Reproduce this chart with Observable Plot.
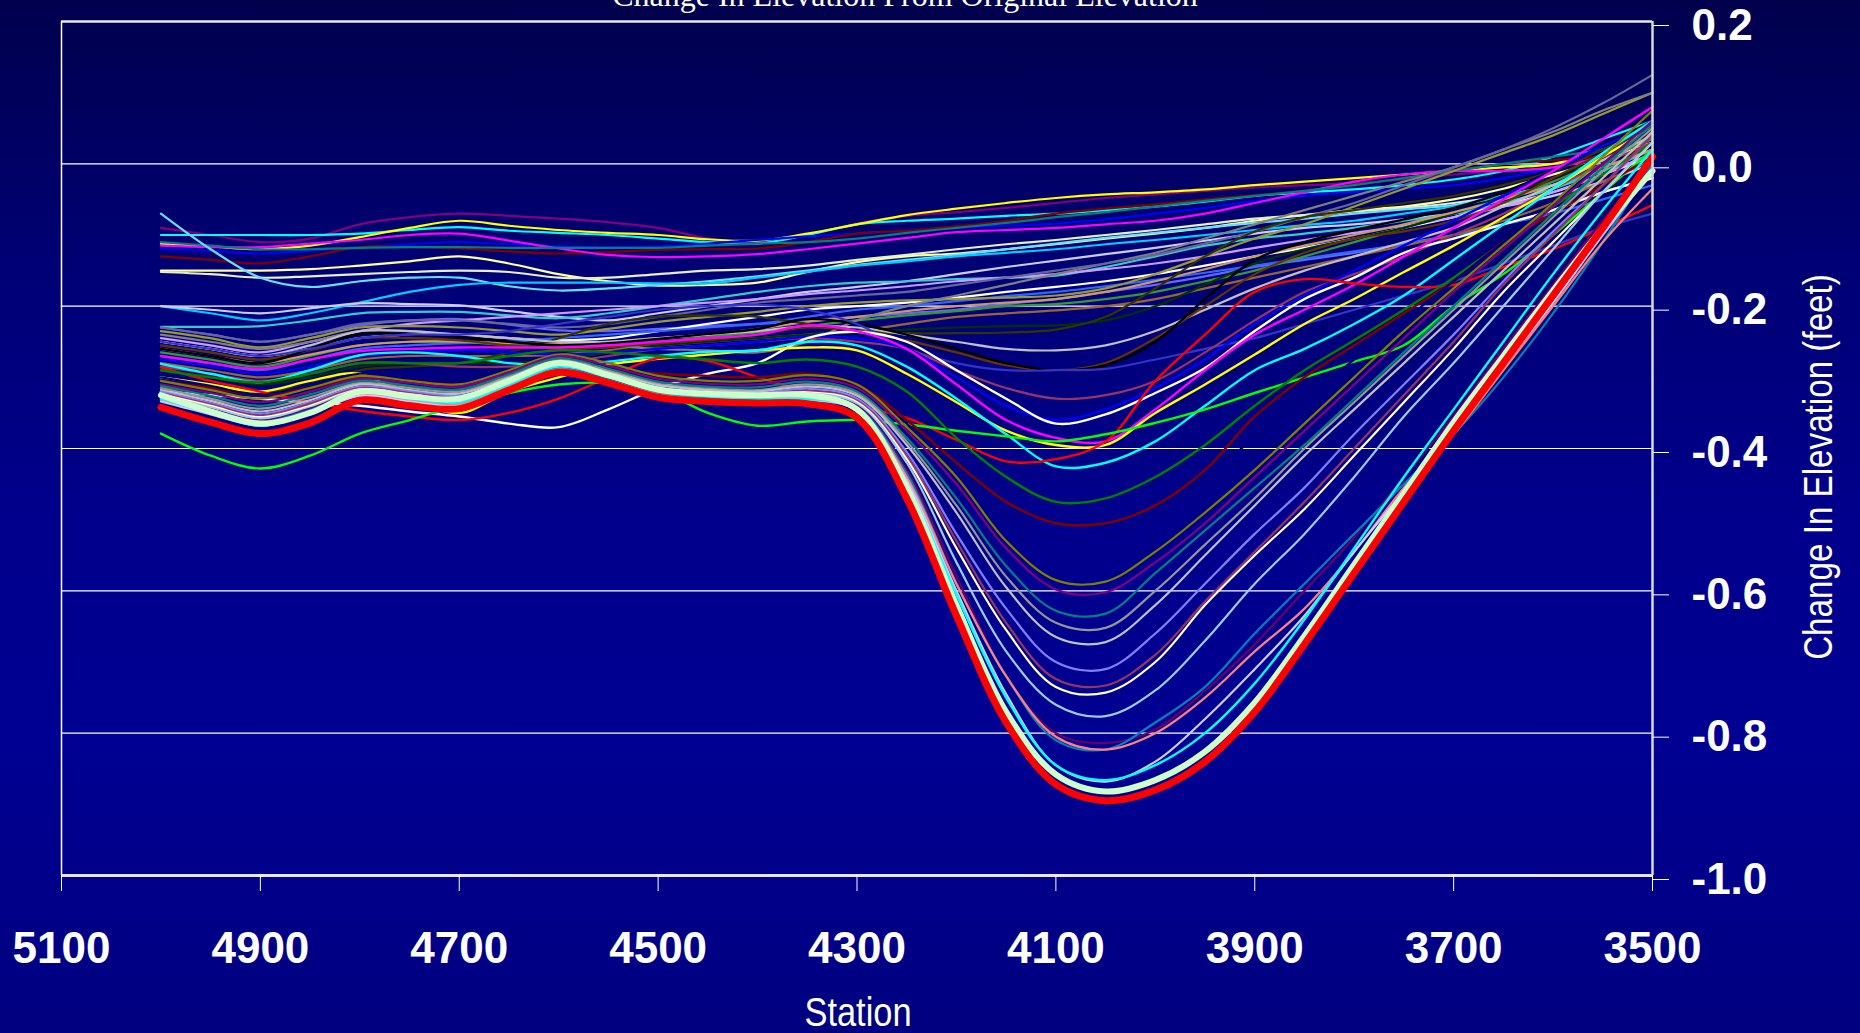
<!DOCTYPE html>
<html><head><meta charset="utf-8">
<script src="https://cdn.jsdelivr.net/npm/d3@7"></script>
<script src="https://cdn.jsdelivr.net/npm/@observablehq/plot@0.6"></script>
<style>
html,body{margin:0;padding:0;background:#000070;}
#chart{position:relative;width:1860px;height:1033px;overflow:hidden;
  background:linear-gradient(to bottom,#00004c 0%,#000074 25%,#00008c 50%,#000092 72%,#000080 100%);}
#chart svg{position:absolute;left:0;top:0;}
.lbl{position:absolute;color:#fff;white-space:nowrap;}
#title{left:905px;top:-22px;transform:translateX(-50%);font-family:"Liberation Serif","Times New Roman",serif;font-size:32px;line-height:34px;}
#xlab{left:858px;top:995px;transform:translateX(-50%) scaleX(0.86);font-family:"Liberation Sans",Arial,sans-serif;font-size:40px;line-height:34px;}
#ylab{left:1818px;top:467px;transform:translate(-50%,-50%) rotate(-90deg) scaleX(0.83);font-family:"Liberation Sans",Arial,sans-serif;font-size:40px;line-height:40px;}
</style></head><body>
<div id="chart">
  <div class="lbl" id="title">Change In Elevation From Original Elevation</div>
  <div class="lbl" id="xlab">Station</div>
  <div class="lbl" id="ylab">Change In Elevation (feet)</div>
</div>
<script>
// ---- data ----
const stations = [5000,4950,4900,4850,4800,4750,4700,4650,4600,4550,4500,4450,4400,4350,4300,4250,4200,4150,4100,4050,4000,3950,3900,3850,3800,3750,3700,3650,3600,3550,3500];
const xTicks = [5100,4900,4700,4500,4300,4100,3900,3700,3500];
const yTicks = [-1.0,-0.8,-0.6,-0.4,-0.2,0.0,0.2];

// top (shallow) group
const topPurple = [-0.090,-0.100,-0.110,-0.105,-0.085,-0.075,-0.070,-0.073,-0.077,-0.082,-0.090,-0.105,-0.112,-0.100,-0.084,-0.073,-0.068,-0.062,-0.055,-0.048,-0.043,-0.038,-0.033,-0.030,-0.027,-0.022,-0.015,-0.010,-0.005,0.010,0.030];
const topCyan = [-0.100,-0.100,-0.100,-0.100,-0.098,-0.093,-0.089,-0.094,-0.097,-0.100,-0.105,-0.110,-0.112,-0.100,-0.085,-0.080,-0.077,-0.073,-0.070,-0.065,-0.060,-0.053,-0.045,-0.040,-0.036,-0.030,-0.022,-0.010,0.010,0.035,0.060];
const topYellow = [-0.112,-0.116,-0.120,-0.115,-0.103,-0.090,-0.080,-0.087,-0.093,-0.097,-0.100,-0.106,-0.108,-0.098,-0.085,-0.072,-0.063,-0.055,-0.048,-0.043,-0.040,-0.036,-0.030,-0.025,-0.020,-0.015,-0.010,-0.005,0.000,0.020,0.050];
const topBlue = [-0.120,-0.122,-0.126,-0.122,-0.117,-0.113,-0.110,-0.113,-0.116,-0.117,-0.116,-0.112,-0.107,-0.102,-0.098,-0.094,-0.090,-0.087,-0.084,-0.078,-0.070,-0.062,-0.052,-0.045,-0.040,-0.035,-0.030,-0.020,-0.005,0.020,0.050];
const topDarkRed = [-0.130,-0.135,-0.140,-0.130,-0.117,-0.117,-0.119,-0.123,-0.126,-0.124,-0.121,-0.120,-0.119,-0.110,-0.098,-0.094,-0.088,-0.080,-0.070,-0.063,-0.057,-0.050,-0.044,-0.038,-0.030,-0.020,-0.010,0.000,0.005,0.010,0.020];
const topMagenta = [-0.115,-0.117,-0.117,-0.112,-0.107,-0.100,-0.098,-0.108,-0.119,-0.128,-0.131,-0.130,-0.127,-0.120,-0.112,-0.104,-0.096,-0.093,-0.090,-0.085,-0.080,-0.070,-0.055,-0.040,-0.025,-0.015,-0.010,-0.010,-0.005,0.010,0.030];
const topTeal = [-0.110,-0.115,-0.120,-0.120,-0.118,-0.117,-0.117,-0.118,-0.118,-0.118,-0.118,-0.115,-0.112,-0.110,-0.105,-0.097,-0.090,-0.083,-0.075,-0.068,-0.060,-0.052,-0.045,-0.038,-0.030,-0.020,-0.010,0.000,0.010,0.020,0.035];
const topLightYellow = [-0.150,-0.150,-0.150,-0.148,-0.143,-0.137,-0.130,-0.140,-0.155,-0.165,-0.171,-0.170,-0.167,-0.152,-0.138,-0.130,-0.126,-0.120,-0.113,-0.105,-0.098,-0.090,-0.080,-0.072,-0.065,-0.060,-0.050,-0.035,-0.015,0.005,0.030];
const topPale = [-0.152,-0.155,-0.160,-0.158,-0.155,-0.152,-0.150,-0.152,-0.160,-0.160,-0.155,-0.150,-0.148,-0.143,-0.135,-0.128,-0.120,-0.113,-0.107,-0.100,-0.093,-0.085,-0.077,-0.072,-0.067,-0.062,-0.055,-0.045,-0.030,-0.010,0.010];
const topLightCyan = [-0.070,-0.120,-0.160,-0.173,-0.165,-0.160,-0.160,-0.172,-0.178,-0.175,-0.170,-0.165,-0.158,-0.150,-0.142,-0.135,-0.128,-0.120,-0.112,-0.104,-0.097,-0.090,-0.083,-0.077,-0.070,-0.064,-0.058,-0.045,-0.030,-0.010,0.010];
const topSky = [-0.200,-0.210,-0.220,-0.210,-0.195,-0.180,-0.170,-0.167,-0.167,-0.167,-0.168,-0.168,-0.160,-0.152,-0.143,-0.137,-0.130,-0.125,-0.120,-0.113,-0.107,-0.100,-0.093,-0.086,-0.080,-0.070,-0.060,-0.045,-0.030,-0.010,0.010];

// middle group
const midLavender = [-0.200,-0.205,-0.210,-0.203,-0.196,-0.197,-0.199,-0.207,-0.215,-0.220,-0.210,-0.200,-0.190,-0.180,-0.173,-0.165,-0.155,-0.145,-0.136,-0.127,-0.118,-0.108,-0.098,-0.090,-0.085,-0.078,-0.070,-0.060,-0.045,-0.025,0.000];
const midTurq = [-0.229,-0.229,-0.228,-0.220,-0.210,-0.208,-0.208,-0.213,-0.217,-0.210,-0.200,-0.190,-0.180,-0.172,-0.167,-0.165,-0.162,-0.160,-0.157,-0.145,-0.130,-0.115,-0.105,-0.098,-0.090,-0.080,-0.070,-0.055,-0.035,-0.010,0.020];
const midViolet = [-0.230,-0.240,-0.250,-0.240,-0.227,-0.220,-0.218,-0.226,-0.234,-0.235,-0.232,-0.228,-0.225,-0.220,-0.215,-0.210,-0.205,-0.197,-0.190,-0.180,-0.170,-0.158,-0.145,-0.135,-0.125,-0.112,-0.100,-0.085,-0.065,-0.040,-0.020];
const midWhite2 = [-0.250,-0.260,-0.270,-0.260,-0.245,-0.240,-0.240,-0.245,-0.248,-0.245,-0.235,-0.225,-0.215,-0.205,-0.200,-0.195,-0.188,-0.180,-0.173,-0.165,-0.155,-0.143,-0.130,-0.118,-0.105,-0.090,-0.075,-0.058,-0.040,-0.015,0.010];
const midPlum = [-0.245,-0.255,-0.265,-0.250,-0.235,-0.225,-0.220,-0.215,-0.210,-0.205,-0.200,-0.195,-0.190,-0.183,-0.178,-0.172,-0.165,-0.160,-0.155,-0.148,-0.140,-0.130,-0.118,-0.107,-0.097,-0.087,-0.075,-0.060,-0.040,-0.015,0.015];
const midRoyal = [-0.270,-0.280,-0.290,-0.275,-0.260,-0.255,-0.252,-0.250,-0.245,-0.240,-0.235,-0.230,-0.225,-0.215,-0.205,-0.200,-0.193,-0.186,-0.180,-0.172,-0.163,-0.153,-0.143,-0.133,-0.123,-0.113,-0.100,-0.085,-0.070,-0.050,-0.030];
const midOlive = [-0.235,-0.245,-0.258,-0.245,-0.230,-0.228,-0.230,-0.235,-0.240,-0.232,-0.222,-0.215,-0.208,-0.200,-0.195,-0.192,-0.190,-0.188,-0.185,-0.175,-0.155,-0.130,-0.105,-0.085,-0.060,-0.035,-0.010,0.015,0.040,0.070,0.100];
const midGreen = [-0.265,-0.275,-0.285,-0.270,-0.255,-0.250,-0.250,-0.255,-0.258,-0.255,-0.250,-0.243,-0.237,-0.228,-0.220,-0.213,-0.207,-0.200,-0.197,-0.190,-0.180,-0.165,-0.150,-0.130,-0.110,-0.090,-0.070,-0.050,-0.025,0.005,0.035];
const midBrown = [-0.280,-0.290,-0.300,-0.290,-0.275,-0.270,-0.270,-0.270,-0.268,-0.262,-0.255,-0.250,-0.245,-0.240,-0.235,-0.225,-0.215,-0.210,-0.206,-0.200,-0.190,-0.175,-0.160,-0.145,-0.130,-0.115,-0.100,-0.080,-0.055,-0.025,0.005];
const midDarkGreen = [-0.290,-0.300,-0.310,-0.300,-0.285,-0.280,-0.280,-0.280,-0.275,-0.265,-0.255,-0.250,-0.245,-0.240,-0.237,-0.233,-0.230,-0.228,-0.227,-0.220,-0.200,-0.170,-0.140,-0.120,-0.105,-0.090,-0.070,-0.045,-0.020,0.010,0.040];
const midTan = [-0.260,-0.270,-0.280,-0.268,-0.255,-0.250,-0.250,-0.252,-0.253,-0.250,-0.245,-0.240,-0.232,-0.222,-0.215,-0.207,-0.200,-0.195,-0.190,-0.180,-0.165,-0.148,-0.130,-0.115,-0.100,-0.085,-0.068,-0.050,-0.030,-0.005,0.020];
const midGray = [-0.240,-0.250,-0.260,-0.250,-0.235,-0.235,-0.240,-0.245,-0.250,-0.255,-0.260,-0.262,-0.265,-0.250,-0.220,-0.200,-0.185,-0.170,-0.155,-0.140,-0.125,-0.105,-0.085,-0.065,-0.045,-0.025,-0.005,0.020,0.045,0.075,0.100];
const midSlate = [-0.230,-0.240,-0.250,-0.240,-0.225,-0.220,-0.220,-0.225,-0.230,-0.225,-0.215,-0.205,-0.195,-0.190,-0.185,-0.180,-0.170,-0.160,-0.150,-0.140,-0.128,-0.112,-0.095,-0.075,-0.055,-0.030,-0.005,0.020,0.050,0.085,0.125];
const midDarkOlive = [-0.300,-0.310,-0.320,-0.310,-0.290,-0.285,-0.280,-0.265,-0.245,-0.225,-0.215,-0.213,-0.215,-0.225,-0.235,-0.238,-0.238,-0.237,-0.233,-0.215,-0.175,-0.130,-0.095,-0.075,-0.065,-0.055,-0.045,-0.030,-0.010,0.020,0.050];
const midSilver = [-0.250,-0.260,-0.270,-0.255,-0.235,-0.235,-0.240,-0.245,-0.250,-0.250,-0.245,-0.240,-0.235,-0.228,-0.230,-0.240,-0.250,-0.260,-0.262,-0.255,-0.235,-0.205,-0.175,-0.150,-0.130,-0.110,-0.090,-0.060,-0.030,0.005,0.040];
const midBlack = [-0.260,-0.270,-0.280,-0.260,-0.239,-0.240,-0.243,-0.250,-0.255,-0.252,-0.246,-0.239,-0.232,-0.218,-0.225,-0.240,-0.260,-0.280,-0.290,-0.283,-0.250,-0.190,-0.135,-0.110,-0.093,-0.078,-0.062,-0.040,-0.010,0.025,0.060];
const midBrownDark = [-0.255,-0.265,-0.275,-0.262,-0.245,-0.245,-0.248,-0.255,-0.260,-0.258,-0.252,-0.247,-0.240,-0.230,-0.235,-0.248,-0.265,-0.283,-0.290,-0.280,-0.245,-0.200,-0.155,-0.125,-0.105,-0.095,-0.080,-0.055,-0.020,0.015,0.045];
const midDarkBlue = [-0.250,-0.260,-0.270,-0.260,-0.245,-0.240,-0.240,-0.235,-0.225,-0.215,-0.205,-0.200,-0.198,-0.205,-0.225,-0.260,-0.280,-0.290,-0.290,-0.288,-0.275,-0.260,-0.245,-0.225,-0.205,-0.185,-0.165,-0.140,-0.115,-0.090,-0.070];
const midMauve = [-0.285,-0.295,-0.305,-0.295,-0.280,-0.280,-0.285,-0.285,-0.280,-0.270,-0.260,-0.255,-0.250,-0.245,-0.250,-0.260,-0.290,-0.315,-0.330,-0.325,-0.305,-0.265,-0.220,-0.180,-0.155,-0.130,-0.100,-0.070,-0.035,0.000,0.030];
const midBlue = [-0.275,-0.285,-0.295,-0.285,-0.270,-0.265,-0.262,-0.265,-0.268,-0.265,-0.260,-0.255,-0.250,-0.243,-0.245,-0.260,-0.300,-0.340,-0.360,-0.345,-0.315,-0.275,-0.225,-0.185,-0.150,-0.115,-0.080,-0.045,-0.010,0.025,0.055];
const midWhite = [-0.320,-0.325,-0.330,-0.335,-0.340,-0.348,-0.355,-0.365,-0.370,-0.345,-0.315,-0.295,-0.280,-0.245,-0.236,-0.250,-0.290,-0.330,-0.365,-0.352,-0.322,-0.287,-0.235,-0.190,-0.160,-0.125,-0.105,-0.085,-0.065,-0.040,-0.020];
const midMagenta = [-0.270,-0.280,-0.288,-0.275,-0.263,-0.260,-0.258,-0.258,-0.258,-0.255,-0.250,-0.245,-0.240,-0.227,-0.235,-0.260,-0.310,-0.360,-0.385,-0.390,-0.345,-0.290,-0.240,-0.205,-0.170,-0.130,-0.090,-0.050,-0.010,0.035,0.080];
const midYellow = [-0.300,-0.310,-0.320,-0.305,-0.295,-0.330,-0.350,-0.320,-0.300,-0.282,-0.274,-0.268,-0.262,-0.258,-0.262,-0.295,-0.335,-0.375,-0.395,-0.395,-0.350,-0.310,-0.268,-0.225,-0.190,-0.152,-0.115,-0.075,-0.035,0.010,0.050];
const midCyan = [-0.281,-0.295,-0.307,-0.290,-0.269,-0.265,-0.270,-0.280,-0.283,-0.278,-0.270,-0.264,-0.262,-0.250,-0.255,-0.285,-0.330,-0.380,-0.425,-0.420,-0.390,-0.340,-0.290,-0.260,-0.225,-0.185,-0.135,-0.085,-0.035,0.015,0.060];
const midRed = [-0.286,-0.305,-0.320,-0.335,-0.347,-0.355,-0.360,-0.350,-0.330,-0.300,-0.273,-0.277,-0.300,-0.320,-0.340,-0.357,-0.388,-0.418,-0.415,-0.390,-0.305,-0.240,-0.180,-0.162,-0.168,-0.173,-0.170,-0.145,-0.120,-0.090,-0.058];
const midLime = [-0.379,-0.410,-0.428,-0.410,-0.379,-0.360,-0.340,-0.322,-0.310,-0.308,-0.318,-0.350,-0.368,-0.362,-0.360,-0.366,-0.375,-0.383,-0.390,-0.380,-0.364,-0.345,-0.322,-0.300,-0.278,-0.255,-0.200,-0.155,-0.100,-0.040,0.020];

// deep group
const deepGreen = [-0.290,-0.300,-0.307,-0.295,-0.280,-0.280,-0.280,-0.270,-0.262,-0.265,-0.270,-0.275,-0.280,-0.275,-0.285,-0.320,-0.385,-0.440,-0.475,-0.470,-0.440,-0.395,-0.340,-0.290,-0.248,-0.205,-0.160,-0.110,-0.060,-0.015,0.030];
const deepDarkRed = [-0.305,-0.315,-0.325,-0.315,-0.300,-0.305,-0.310,-0.300,-0.290,-0.290,-0.295,-0.298,-0.300,-0.295,-0.310,-0.360,-0.420,-0.475,-0.505,-0.505,-0.480,-0.430,-0.355,-0.300,-0.255,-0.210,-0.165,-0.110,-0.070,-0.030,0.010];
const deepNavy = [-0.300,-0.312,-0.325,-0.310,-0.295,-0.300,-0.305,-0.290,-0.270,-0.285,-0.300,-0.305,-0.305,-0.300,-0.315,-0.365,-0.430,-0.495,-0.525,-0.525,-0.490,-0.440,-0.385,-0.330,-0.275,-0.220,-0.165,-0.110,-0.055,0.000,0.050];
const deepOlive = [-0.305,-0.318,-0.330,-0.315,-0.298,-0.305,-0.310,-0.290,-0.268,-0.280,-0.298,-0.305,-0.305,-0.297,-0.310,-0.370,-0.440,-0.530,-0.585,-0.587,-0.545,-0.490,-0.430,-0.365,-0.300,-0.235,-0.175,-0.115,-0.055,0.010,0.075];
const deepPurple = [-0.310,-0.322,-0.335,-0.320,-0.302,-0.308,-0.313,-0.293,-0.270,-0.284,-0.302,-0.309,-0.310,-0.302,-0.315,-0.375,-0.450,-0.540,-0.598,-0.602,-0.560,-0.505,-0.440,-0.375,-0.310,-0.245,-0.180,-0.120,-0.060,0.000,0.060];
const deepTeal = [-0.312,-0.326,-0.340,-0.324,-0.305,-0.312,-0.317,-0.296,-0.273,-0.288,-0.306,-0.313,-0.314,-0.306,-0.320,-0.385,-0.470,-0.565,-0.628,-0.632,-0.575,-0.515,-0.455,-0.395,-0.330,-0.265,-0.200,-0.135,-0.070,-0.005,0.055];
const deepGray = [-0.315,-0.330,-0.344,-0.328,-0.308,-0.315,-0.320,-0.299,-0.276,-0.291,-0.309,-0.316,-0.318,-0.310,-0.323,-0.390,-0.480,-0.580,-0.645,-0.652,-0.600,-0.535,-0.470,-0.400,-0.335,-0.270,-0.205,-0.140,-0.075,-0.010,0.050];
const deepSilver = [-0.318,-0.333,-0.348,-0.332,-0.310,-0.318,-0.323,-0.301,-0.278,-0.293,-0.311,-0.318,-0.320,-0.313,-0.326,-0.395,-0.490,-0.595,-0.665,-0.672,-0.620,-0.550,-0.480,-0.410,-0.345,-0.280,-0.215,-0.150,-0.085,-0.020,0.045];
const deepPeri = [-0.320,-0.336,-0.351,-0.335,-0.313,-0.320,-0.326,-0.304,-0.280,-0.296,-0.314,-0.321,-0.323,-0.316,-0.330,-0.405,-0.520,-0.625,-0.700,-0.710,-0.660,-0.590,-0.520,-0.455,-0.380,-0.310,-0.240,-0.165,-0.095,-0.030,0.040];
const deepMauve = [-0.322,-0.338,-0.354,-0.337,-0.315,-0.322,-0.328,-0.306,-0.282,-0.298,-0.316,-0.323,-0.325,-0.319,-0.333,-0.410,-0.530,-0.645,-0.724,-0.733,-0.690,-0.615,-0.545,-0.475,-0.400,-0.325,-0.250,-0.170,-0.100,-0.030,0.040];
const deepLightYellow = [-0.324,-0.340,-0.356,-0.340,-0.317,-0.324,-0.330,-0.308,-0.284,-0.300,-0.318,-0.325,-0.327,-0.321,-0.335,-0.415,-0.540,-0.655,-0.735,-0.743,-0.700,-0.620,-0.550,-0.485,-0.410,-0.335,-0.260,-0.180,-0.110,-0.040,0.030];
const deepLightBlue = [-0.326,-0.342,-0.358,-0.342,-0.318,-0.326,-0.332,-0.310,-0.285,-0.301,-0.320,-0.327,-0.329,-0.323,-0.337,-0.420,-0.560,-0.685,-0.760,-0.776,-0.740,-0.670,-0.590,-0.520,-0.440,-0.355,-0.280,-0.200,-0.120,-0.040,0.030];
const deepDarkPurple = [-0.328,-0.345,-0.361,-0.344,-0.320,-0.328,-0.334,-0.311,-0.287,-0.303,-0.322,-0.329,-0.331,-0.326,-0.340,-0.430,-0.580,-0.720,-0.800,-0.814,-0.795,-0.740,-0.675,-0.600,-0.525,-0.440,-0.355,-0.260,-0.170,-0.080,0.000];
const deepSteel = [-0.330,-0.347,-0.363,-0.346,-0.322,-0.330,-0.336,-0.312,-0.288,-0.304,-0.323,-0.330,-0.333,-0.328,-0.342,-0.435,-0.590,-0.720,-0.810,-0.823,-0.785,-0.735,-0.660,-0.590,-0.520,-0.450,-0.380,-0.300,-0.210,-0.110,0.000];
const deepSalmon = [-0.332,-0.349,-0.365,-0.348,-0.324,-0.332,-0.338,-0.313,-0.289,-0.305,-0.324,-0.331,-0.334,-0.330,-0.344,-0.440,-0.590,-0.720,-0.805,-0.823,-0.800,-0.750,-0.685,-0.625,-0.545,-0.455,-0.380,-0.290,-0.200,-0.110,-0.035];
const deepLavender = [-0.334,-0.352,-0.368,-0.351,-0.326,-0.334,-0.340,-0.315,-0.290,-0.306,-0.325,-0.332,-0.335,-0.332,-0.347,-0.445,-0.600,-0.745,-0.845,-0.868,-0.840,-0.780,-0.710,-0.635,-0.545,-0.460,-0.375,-0.285,-0.195,-0.100,-0.010];
const deepCyan = [-0.330,-0.350,-0.368,-0.350,-0.322,-0.330,-0.335,-0.310,-0.285,-0.300,-0.320,-0.327,-0.330,-0.330,-0.345,-0.450,-0.605,-0.750,-0.845,-0.866,-0.845,-0.800,-0.730,-0.640,-0.540,-0.440,-0.345,-0.250,-0.155,-0.065,0.020];
const deepPaleGreen = [-0.325,-0.348,-0.365,-0.350,-0.320,-0.327,-0.330,-0.305,-0.280,-0.297,-0.317,-0.323,-0.325,-0.325,-0.345,-0.455,-0.620,-0.770,-0.858,-0.882,-0.866,-0.826,-0.757,-0.663,-0.563,-0.463,-0.363,-0.270,-0.178,-0.090,-0.010];
const deepRed = [-0.342,-0.363,-0.379,-0.364,-0.332,-0.340,-0.344,-0.318,-0.293,-0.308,-0.328,-0.334,-0.336,-0.337,-0.357,-0.470,-0.635,-0.785,-0.872,-0.895,-0.880,-0.840,-0.770,-0.675,-0.575,-0.475,-0.375,-0.280,-0.185,-0.090,0.010];

// ---- styling (series -> colour, width), in drawing order ----
const series = [
  [topPurple,"#800080",2.2],[topCyan,"#00ffff",2.2],[topYellow,"#ffff00",2.2],[topBlue,"#0000ff",2.2],
  [topDarkRed,"#800000",2.2],[topMagenta,"#ff00ff",2.2],[topTeal,"#008080",2.2],[topLightYellow,"#ffff99",2.2],
  [topPale,"#e6f0c8",2.2],[topLightCyan,"#66e0ff",2.2],[topSky,"#00ccff",2.2],
  [midLavender,"#ccccff",2.2],[midTurq,"#33cccc",2.2],[midViolet,"#6666ff",2.2],[midWhite2,"#ffffff",2.2],
  [midPlum,"#cc99ff",2.2],[midRoyal,"#3366ff",2.2],[midOlive,"#999933",2.2],[midGreen,"#339933",2.2],
  [midBrown,"#996633",2.2],[midDarkGreen,"#003300",2.2],[midTan,"#cc9966",2.2],[midGray,"#808080",2.2],
  [midSlate,"#666699",2.2],[midDarkOlive,"#333300",2.2],[midSilver,"#c0c0c0",2.2],[midBrownDark,"#663300",2.2],
  [midBlack,"#000000",2.4],[midDarkBlue,"#3333cc",2.2],[midMauve,"#993366",2.2],[midBlue,"#0000ff",2.4],
  [midWhite,"#ffffff",2.4],[midMagenta,"#ff00ff",2.4],[midYellow,"#ffff00",2.4],[midCyan,"#00ffff",2.4],
  [midRed,"#ff0000",2.4],[midLime,"#00ff00",2.4],
  [deepGreen,"#008000",2.4],[deepDarkRed,"#800000",2.4],[deepNavy,"#000080",2.2],[deepOlive,"#808000",2.2],
  [deepPurple,"#800080",2.2],[deepTeal,"#008080",2.2],[deepGray,"#969696",2.2],[deepSilver,"#c0c0c0",2.2],
  [deepPeri,"#8080ff",2.2],[deepMauve,"#993366",2.2],[deepLightYellow,"#ffffcc",2.2],[deepLightBlue,"#99ccee",2.2],
  [deepDarkPurple,"#660066",2.2],[deepSteel,"#0080c0",2.2],[deepSalmon,"#ff8080",2.2],[deepLavender,"#ccccff",2.2],
  [deepCyan,"#00ffff",2.4],[deepPaleGreen,"#ccffcc",6],[deepRed,"#ff0000",7]
];

const lineMarks = series.map(([vals, color, w]) =>
  Plot.line(stations.map((s, i) => ({station: s, value: vals[i]})), {
    x: "station", y: "value", stroke: color, strokeWidth: w,
    curve: "catmull-rom", strokeLinejoin: "round", strokeLinecap: "round"
  })
);

const chart = Plot.plot({
  width: 1860, height: 1033,
  marginTop: 21, marginBottom: 158, marginLeft: 61, marginRight: 208,
  style: {background: "transparent", color: "#ffffff", fontFamily: "'Liberation Sans', Arial, sans-serif", overflow: "visible"},
  x: {domain: [5100, 3500]},
  y: {domain: [-1, 0.2]},
  marks: [
    Plot.gridY(yTicks, {stroke: "#ffffff", strokeOpacity: 1, strokeWidth: 1.2}),
    Plot.ruleX([5100], {stroke: "#ffffff", strokeWidth: 1.5}),
    Plot.ruleY([0.2], {stroke: "#e8e8e8", strokeWidth: 2.5}),
    ...lineMarks,
    Plot.ruleY([-1], {stroke: "#e8e8e8", strokeWidth: 3}),
    Plot.ruleX([3500], {stroke: "#d8d8d8", strokeWidth: 2.5}),
    Plot.axisY(yTicks, {anchor: "right", tickSize: 16, tickPadding: 23, tickFormat: d => d.toFixed(1),
      fontSize: 44, fontWeight: "bold", label: null, stroke: "#ffffff", fill: "#ffffff", dy: 4}),
    Plot.axisX(xTicks, {anchor: "bottom", tickSize: 16, tickPadding: 40, tickFormat: d => String(d),
      fontSize: 44, fontWeight: "bold", label: null, stroke: "#ffffff", fill: "#ffffff"})
  ]
});
document.getElementById("chart").prepend(chart);
</script>
</body></html>
